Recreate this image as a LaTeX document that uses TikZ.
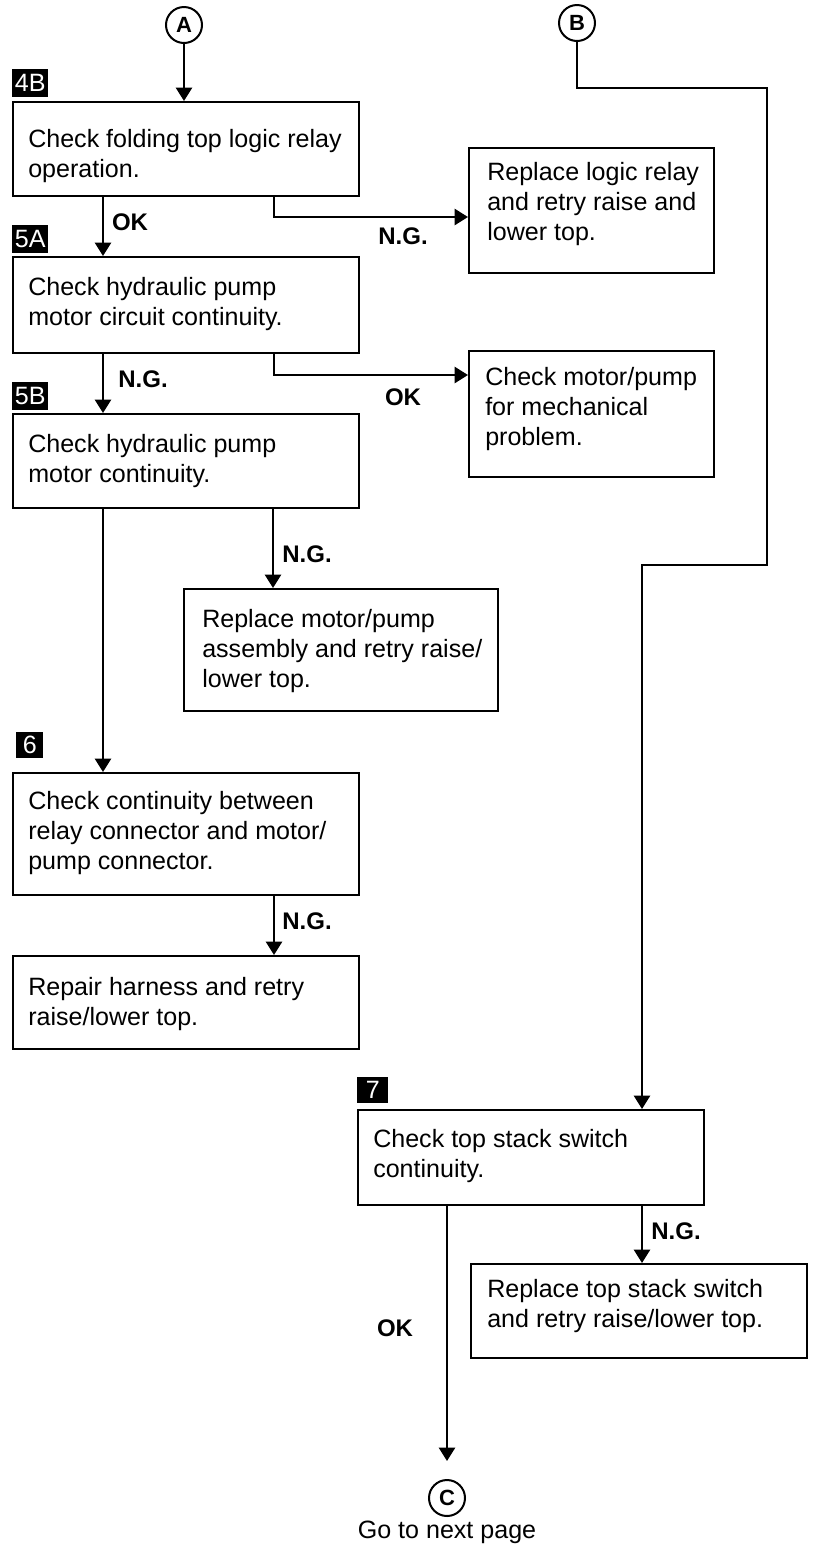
\documentclass[tikz,border=0pt]{standalone}
\usepackage{fontspec}
\setmainfont{Liberation Sans}
\usetikzlibrary{arrows.meta,calc}
\begin{document}
\begin{tikzpicture}[x=0.75pt,y=-0.75pt,
  box/.style={draw, line width=1.8pt, inner sep=0, anchor=north west},
  txt/.style={anchor=north west, inner sep=0, align=left, font=\fontsize{18.8pt}{22.5pt}\selectfont},
  steplbl/.style={fill=black, text=white, inner sep=0, anchor=north west, minimum height=28*0.75pt, font=\fontsize{18.8pt}{18.8pt}\selectfont},
  conn/.style={line width=1.8pt, -{Triangle[length=10pt,width=12pt]}},
  line/.style={line width=1.8pt},
  res/.style={inner sep=0, font=\bfseries\fontsize{18pt}{18pt}\selectfont},
  circ/.style={draw, circle, line width=1.5pt, minimum size=36*0.75pt, inner sep=0, font=\bfseries\fontsize{16.5pt}{16.5pt}\selectfont}]
\useasboundingbox (0,0) rectangle (819,1547);

% connectors' circles
\node[circ] (A) at (184,25) {A};
\node[circ] (B) at (577,23) {B};
\node[circ] (C) at (447,1498) {C};
\node[anchor=base, inner sep=0, font=\fontsize{18.8pt}{22.5pt}\selectfont] (next) at (447,1538) {Go to next page};

% step labels
\node[steplbl, minimum width=36*0.75pt] (l4B) at (12,69) {4B};
\node[steplbl, minimum width=36*0.75pt] (l5A) at (12,225) {5A};
\node[steplbl, minimum width=36*0.75pt] (l5B) at (12,382) {5B};
\node[steplbl, minimum width=27*0.75pt, minimum height=26*0.75pt] (l6) at (16,732) {6};
\node[steplbl, minimum width=31*0.75pt, minimum height=26*0.75pt] (l7) at (357,1077) {7};

% boxes
\node[box, minimum width=346*0.75pt, minimum height=94*0.75pt] (b4B) at (12,101) {};
\node[box, minimum width=245*0.75pt, minimum height=125*0.75pt] (bRelay) at (468,147) {};
\node[box, minimum width=346*0.75pt, minimum height=96*0.75pt] (b5A) at (12,256) {};
\node[box, minimum width=245*0.75pt, minimum height=126*0.75pt] (bMech) at (468,350) {};
\node[box, minimum width=346*0.75pt, minimum height=94*0.75pt] (b5B) at (12,413) {};
\node[box, minimum width=314*0.75pt, minimum height=122*0.75pt] (bMotor) at (183,588) {};
\node[box, minimum width=346*0.75pt, minimum height=122*0.75pt] (b6) at (12,772) {};
\node[box, minimum width=346*0.75pt, minimum height=93*0.75pt] (bRepair) at (12,955) {};
\node[box, minimum width=346*0.75pt, minimum height=95*0.75pt] (b7) at (357,1109) {};
\node[box, minimum width=336*0.75pt, minimum height=94*0.75pt] (bTop) at (470,1263) {};

% box texts
\node[txt] (t4B) at (28,129) {Check folding top logic relay\\operation.};
\node[txt] (tRelay) at (487,162) {Replace logic relay\\and retry raise and\\lower top.};
\node[txt] (t5A) at (28,277) {Check hydraulic pump\\motor circuit continuity.};
\node[txt] (tMech) at (485,367) {Check motor/pump\\for mechanical\\problem.};
\node[txt] (t5B) at (28,434) {Check hydraulic pump\\motor continuity.};
\node[txt] (tMotor) at (202,609) {Replace motor/pump\\assembly and retry raise/\\lower top.};
\node[txt] (t6) at (28,791) {Check continuity between\\relay connector and motor/\\pump connector.};
\node[txt] (tRepair) at (28,977) {Repair harness and retry\\raise/lower top.};
\node[txt] (t7) at (373,1129) {Check top stack switch\\continuity.};
\node[txt] (tTop) at (487,1279) {Replace top stack switch\\and retry raise/lower top.};

% result labels
\node[res] (ok1) at (130,222) {OK};
\node[res] (ng1) at (403,236) {N.G.};
\node[res] (ng2) at (143,379) {N.G.};
\node[res] (ok2) at (403,397) {OK};
\node[res] (ng3) at (307,554) {N.G.};
\node[res] (ng4) at (307,921) {N.G.};
\node[res] (ng5) at (676,1231) {N.G.};
\node[res] (ok3) at (395,1328) {OK};

% connectors
\draw[conn] (A.south) -- (A.south |- b4B.north);
\draw[conn] ($(b4B.south west)+(91,0)$) -- ($(b5A.north west)+(91,0)$);
\draw[conn] ($(b4B.south west)+(262,0)$) |- ($(bRelay.north west)+(0,70)$);
\draw[conn] ($(b5A.south west)+(91,0)$) -- ($(b5B.north west)+(91,0)$);
\draw[conn] ($(b5A.south west)+(262,0)$) |- ($(bMech.north west)+(0,25)$);
\draw[conn] ($(b5B.south west)+(91,0)$) -- ($(b6.north west)+(91,0)$);
\draw[conn] ($(b5B.south west)+(261,0)$) -- ($(bMotor.north west)+(90,0)$);
\draw[conn] ($(b6.south west)+(262,0)$) -- ($(bRepair.north west)+(262,0)$);
\coordinate (Bc1) at (767,88);
\coordinate (Bc2) at (767,565);
\draw[conn] (B.south) |- (Bc1) -- (Bc2) -| ($(b7.north west)+(285,0)$);
\draw[conn] ($(b7.south west)+(285,0)$) -- ($(bTop.north west)+(172,0)$);
\draw[conn, shorten >=13.5pt] (b7.south -| C) -- (C.north);
\end{tikzpicture}
\end{document}
